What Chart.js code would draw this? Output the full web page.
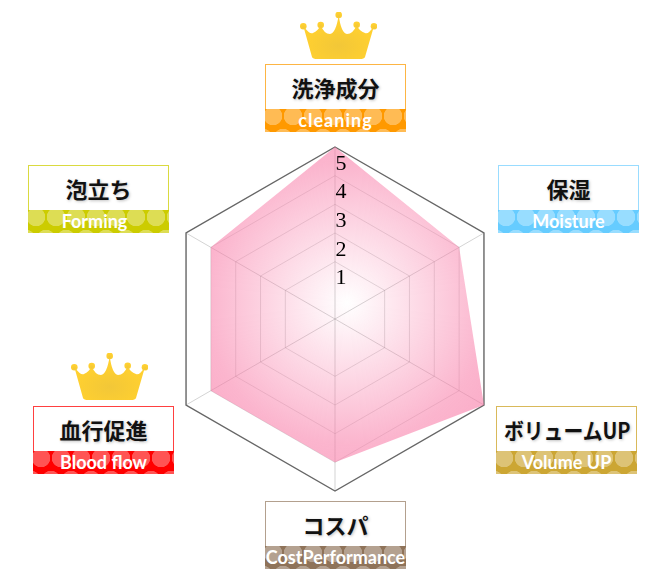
<!DOCTYPE html>
<html lang="ja">
<head>
<meta charset="utf-8">
<title>レーダーチャート</title>
<script src="https://cdn.jsdelivr.net/npm/chart.js@4"></script>
<style>
  html, body { margin: 0; padding: 0; background: #fff; }
  #wrap { position: relative; width: 670px; height: 584px; overflow: hidden; }
  #chart { position: absolute; left: 0; top: 0; }
  .box { position: absolute; width: 141px; height: 68px; box-sizing: border-box; }
  .box .ja {
    position: absolute; left: 0; right: 0; top: 0; height: 45px; box-sizing: border-box;
    border: 1px solid; border-bottom: 0; background: #fff; text-align: center;
    font: bold 22px/45px "Noto Sans CJK JP"; color: #111;
    text-shadow: 1px 1px 3px rgba(0,0,0,.25); white-space: nowrap;
  }
  .box .ja span { display: inline-block; }
  .box .en {
    position: absolute; left: 0; right: 0; top: 45px; height: 23px; overflow: hidden; text-align: center;
    font: bold 18px/22px Lato; color: #fff; white-space: nowrap;
    background-image:
      radial-gradient(circle, rgba(255,255,255,.33) 9px, transparent 9.5px),
      radial-gradient(circle, rgba(255,255,255,.33) 9px, transparent 9.5px);
    background-size: 20px 44px;
    background-position: -2px -15px, 8px 7px;
  }
  .crown { position: absolute; width: 77px; height: 48px; }
</style>
</head>
<body>
<div id="wrap">
  <canvas id="chart" width="670" height="584"></canvas>
</div>
<script>
// 6 axes, clockwise from the top
const categories = ['洗浄成分', '保湿', 'ボリュームUP', 'コスパ', '血行促進', '泡立ち'];
const englishLabels = ['cleaning', 'Moisture', 'Volume UP', 'CostPerformance', 'Blood flow', 'Forming'];
const scores = [5, 4, 5, 4, 4, 4];
const tickLabels = [1, 2, 3, 4, 5];

const boxColors = ['#ff9900', '#66ccff', '#cca633', '#8f7359', '#ff0000', '#cccc00'];
const borderColors = ['#fdb544', '#99dcff', '#d9b95a', '#b3a08e', '#ff4040', '#dada40'];
const boxLeft = [265, 498, 496, 265, 33, 28];
const boxTop = [64, 165, 406, 501, 406, 165];
const jaSquash = [1, 1, 0.9, 1, 1, 1];
const enSpacing = [1, 0, 0, 0, 0, 0];
const enShift = [0, 0, 0, 0, 0, -4];
const crownSpots = [[300, 12], [71, 353]];

const wrap = document.getElementById('wrap');

categories.forEach((name, i) => {
    const html = `
      <div class="box" style="left:${boxLeft[i]}px;top:${boxTop[i]}px">
        <div class="ja" style="border-color:${borderColors[i]}"><span style="transform:scaleX(${jaSquash[i]})">${name}</span></div>
        <div class="en" style="background-color:${boxColors[i]};letter-spacing:${enSpacing[i]}px;text-indent:${enShift[i] * 2}px">${englishLabels[i]}</div>
      </div>`;
    wrap.insertAdjacentHTML('beforeend', html);
});

crownSpots.forEach((spot, i) => {
    const svg = `
      <svg class="crown" style="left:${spot[0]}px;top:${spot[1]}px" viewBox="0 0 77 48">
        <defs>
          <radialGradient id="gold${i}" cx="50%" cy="70%" r="50%">
            <stop offset="0" stop-color="#f2c738"/>
            <stop offset="1" stop-color="#ffd030"/>
          </radialGradient>
        </defs>
        <g fill="url(#gold${i})">
          <path d="M3.3 14 Q10 23 13 21 Q18 19 20.7 13 Q24 22 30 22 Q36 21 38.7 3 Q41 21 47 22 Q53 22 56.7 13 Q59 19 65 21 Q68 23 74 14 L65 45 Q64 47 60 47 L17 47 Q13 47 12 45 Z"/>
          <circle cx="3.3" cy="14.3" r="3.3"/><circle cx="20.7" cy="13" r="3.3"/>
          <circle cx="38.7" cy="2.9" r="3.3"/><circle cx="56.7" cy="12.7" r="3.3"/>
          <circle cx="74" cy="14.3" r="3.3"/>
        </g>
      </svg>`;
    wrap.insertAdjacentHTML('beforeend', svg);
});

// numbers sit just right of the top axis, in the band below their ring
const tickLabelPlugin = {
    id: 'tickLabelPlugin',
    afterDatasetsDraw(chart) {
        const scale = chart.scales.r;
        const ctx = chart.ctx;
        ctx.save();
        ctx.font = '22px "Liberation Serif"';
        ctx.fillStyle = '#000';
        ctx.textAlign = 'center';
        ctx.textBaseline = 'middle';
        tickLabels.forEach(v => {
            const p = scale.getPointPositionForValue(0, v);
            ctx.fillText(String(v), p.x + 6, p.y + 17);
        });
        ctx.restore();
    }
};

function pinkGradient(context) {
    const chart = context.chart;
    if (!chart.chartArea) return 'rgba(248,120,165,.5)';
    const scale = chart.scales.r;
    // the bright spot follows the filled shape, so it sits up and right of the axis centre
    const x = scale.xCenter + 12;
    const y = scale.yCenter - 16;
    const g = chart.ctx.createRadialGradient(x, y, 0, x, y, scale.drawingArea);
    g.addColorStop(0, 'rgba(248,120,165,0)');
    g.addColorStop(0.82, 'rgba(248,120,165,.55)');
    g.addColorStop(1, 'rgba(248,120,165,.6)');
    return g;
}

new Chart(document.getElementById('chart'), {
    type: 'radar',
    data: {
        labels: categories,
        datasets: [{
            data: scores,
            backgroundColor: pinkGradient,
            borderWidth: 0,
            pointRadius: 0,
            fill: 'start'
        }]
    },
    options: {
        responsive: false,
        animation: false,
        layout: { padding: { left: 163, right: 163, top: 147, bottom: 93 } },
        plugins: { legend: { display: false }, tooltip: { enabled: false } },
        scales: {
            r: {
                min: -1,
                max: 5,
                ticks: { stepSize: 1, display: false },
                pointLabels: { display: false },
                angleLines: { color: 'rgba(120,120,120,.32)' },
                grid: {
                    lineWidth: ctx => ctx.tick.value === 5 ? 1.4 : 1,
                    color: ctx => {
                        if (ctx.tick.value === 5) return '#666';
                        return ctx.tick.value < 1 ? 'rgba(0,0,0,0)' : 'rgba(120,120,120,.25)';
                    }
                }
            }
        }
    },
    plugins: [tickLabelPlugin]
});
</script>
</body>
</html>
